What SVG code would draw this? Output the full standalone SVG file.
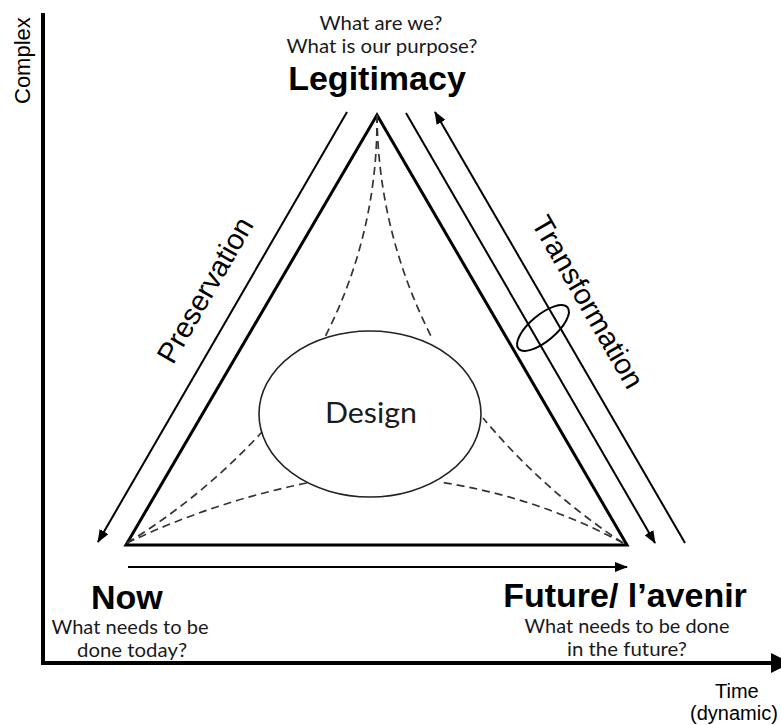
<svg xmlns="http://www.w3.org/2000/svg" width="781" height="725" viewBox="0 0 781 725">
<style>
.bg{fill:#ffffff}
.tri{fill:none;stroke:#000;stroke-width:3;stroke-linejoin:miter}
.ln{fill:none;stroke:#000;stroke-width:2}
.axis{fill:none;stroke:#000;stroke-width:4}
.dash{fill:none;stroke:#333;stroke-width:1.7;stroke-dasharray:8 5}
.ell{fill:none;stroke:#222;stroke-width:1.6}
.big{font-family:"Liberation Sans",Arial,sans-serif;font-weight:bold;font-size:34px;fill:#000}
.q{font-family:Lato,"Noto Sans",sans-serif;font-size:20px;fill:#1a1a1a}
.dz{font-family:Lato,"Noto Sans",sans-serif;font-size:29px;fill:#1a1a1a}
.rot{font-family:"Liberation Sans",Arial,sans-serif;font-size:29px;fill:#000}
.ax{font-family:"Liberation Sans",Arial,sans-serif;font-size:20px;fill:#000}
.axv{font-family:"Liberation Sans",Arial,sans-serif;font-size:22px;fill:#000}
</style>
<defs>
<marker id="ah" viewBox="0 0 13 10" refX="12" refY="5" markerWidth="13" markerHeight="10" orient="auto" markerUnits="userSpaceOnUse">
<path d="M0,0 L13,5 L0,10 z" fill="#000"/>
</marker>
</defs>
<rect class="bg" x="0" y="0" width="781" height="725"/>

<g id="axes">
<line class="axis" x1="43" y1="13" x2="43" y2="663"/>
<line class="axis" x1="41" y1="663" x2="775" y2="663"/>
<polygon points="771,653 791,663 771,673" fill="#000"/>
<text class="axv" transform="translate(30,104) rotate(-90)">Complex</text>
<text class="ax" x="715" y="698">Time</text>
<text class="ax" x="690" y="720">(dynamic)</text>
</g>

<g id="connectors">
<polygon class="tri" points="377,115 126,545 627,545"/>
<line class="ln" x1="347" y1="112" x2="98" y2="542" marker-end="url(#ah)"/>
<line class="ln" x1="406" y1="113" x2="655" y2="543" marker-end="url(#ah)"/>
<line class="ln" x1="685" y1="543" x2="435" y2="112" marker-end="url(#ah)"/>
<line class="ln" x1="128" y1="567" x2="627" y2="567" marker-end="url(#ah)"/>
<path class="dash" d="M377,115 Q378,233 325,337"/>
<path class="dash" d="M377,115 Q378,233 433,340"/>
<path class="dash" d="M127,543 Q202,497 262,432"/>
<path class="dash" d="M127,543 Q213,502 307,483"/>
<path class="dash" d="M623,543 Q544,491 483,418"/>
<path class="dash" d="M623,543 Q537,497 440,482"/>
<ellipse cx="543" cy="328" rx="32" ry="13" transform="rotate(-40 543 328)" fill="none" stroke="#000" stroke-width="2"/>
</g>

<g id="node-legitimacy">
<text class="q" x="381" y="30" text-anchor="middle" textLength="123" lengthAdjust="spacingAndGlyphs">What are we?</text>
<text class="q" x="382" y="53" text-anchor="middle" textLength="191" lengthAdjust="spacingAndGlyphs">What is our purpose?</text>
<text class="big" x="377" y="90" text-anchor="middle">Legitimacy</text>
</g>

<g id="node-now">
<text class="big" x="91" y="609">Now</text>
<text class="q" x="130" y="634" text-anchor="middle" textLength="157" lengthAdjust="spacingAndGlyphs">What needs to be</text>
<text class="q" x="132" y="657" text-anchor="middle" textLength="110" lengthAdjust="spacingAndGlyphs">done today?</text>
</g>

<g id="node-future">
<text class="big" x="625" y="607" text-anchor="middle">Future/ l’avenir</text>
<text class="q" x="627" y="633" text-anchor="middle" textLength="205" lengthAdjust="spacingAndGlyphs">What needs to be done</text>
<text class="q" x="627" y="656" text-anchor="middle" textLength="120" lengthAdjust="spacingAndGlyphs">in the future?</text>
</g>

<g id="node-design">
<ellipse class="ell" cx="370" cy="414" rx="111" ry="83"/>
<text class="dz" x="371" y="423" text-anchor="middle" textLength="92" lengthAdjust="spacingAndGlyphs">Design</text>
</g>

<g id="label-preservation">
<text class="rot" transform="translate(205,290) rotate(-60)" x="0" y="10" text-anchor="middle">Preservation</text>
</g>

<g id="label-transformation">
<text class="rot" transform="translate(588,302) rotate(60)" x="0" y="10" text-anchor="middle">Transformation</text>
</g>
</svg>
